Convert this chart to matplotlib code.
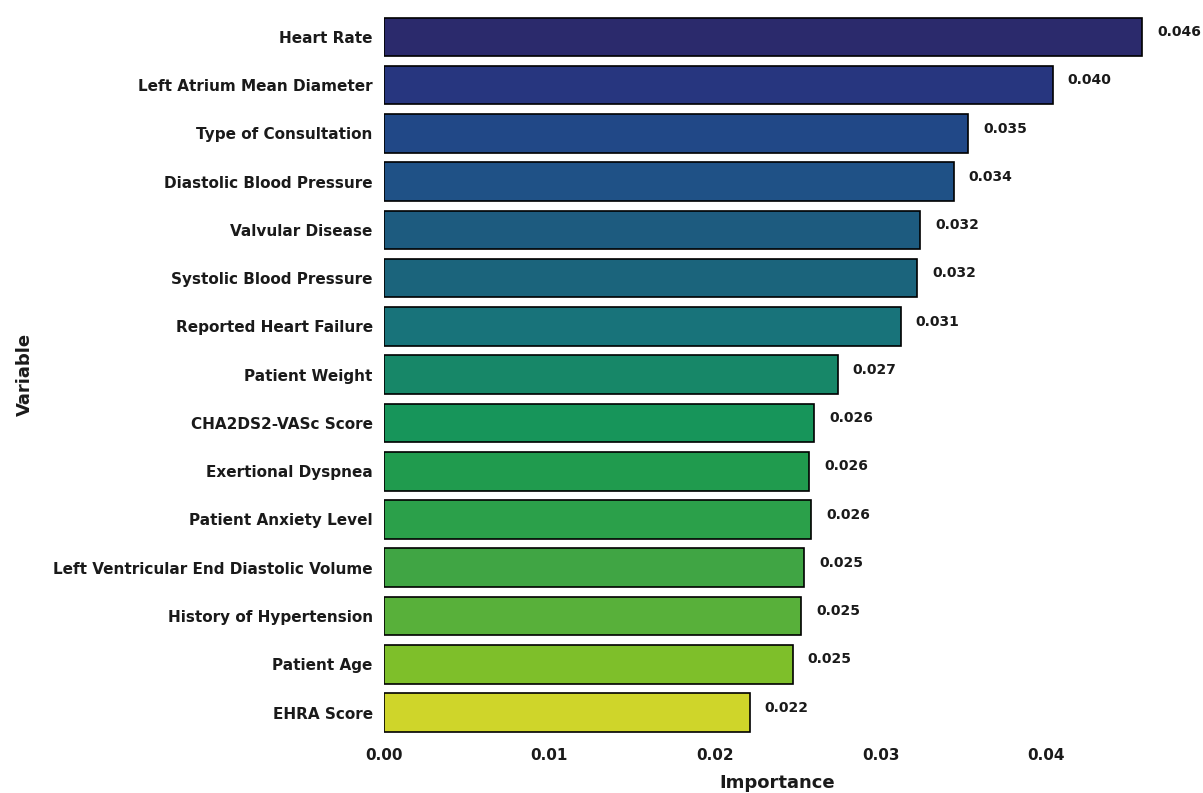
import matplotlib
matplotlib.use("Agg")
import matplotlib.pyplot as plt

variables = ["Heart Rate", "Left Atrium Mean Diameter", "Type of Consultation",
             "Diastolic Blood Pressure", "Valvular Disease", "Systolic Blood Pressure",
             "Reported Heart Failure", "Patient Weight", "CHA2DS2-VASc Score",
             "Exertional Dyspnea", "Patient Anxiety Level",
             "Left Ventricular End Diastolic Volume", "History of Hypertension",
             "Patient Age", "EHRA Score"]
importance = [0.0458, 0.0404, 0.0353, 0.0344, 0.0324, 0.0322, 0.0312, 0.0274,
              0.0260, 0.0257, 0.0258, 0.0254, 0.0252, 0.0247, 0.0221]

colors = ["#2b2a6c", "#27367f", "#214887", "#1f5186", "#1d5b7f", "#1b647c",
          "#18737a", "#178768", "#17955a", "#209b4e", "#2ba04a", "#40a544",
          "#58b03a", "#7ebf2a", "#cfd52a"]

plt.rcParams['font.family'] = 'DejaVu Sans'
plt.rcParams['font.weight'] = 'bold'

fig = plt.figure(figsize=(12.03, 7.93), dpi=100)
ax = fig.add_axes([0.319, 0.071, 0.654, 0.913])

ypos = list(range(len(variables)))
ax.barh(ypos, importance, height=0.8, color=colors, edgecolor="black", linewidth=1.2)

for y, v in zip(ypos, importance):
    ax.text(v + 0.0009, y - 0.1, "%.3f" % v, va="center", ha="left",
            fontsize=10, fontweight="bold", color="#1a1a1a")

ax.set_yticks(ypos)
ax.set_yticklabels(variables, fontsize=11, fontweight="bold", color="#1a1a1a")
ax.set_ylim(len(variables) - 0.5, -0.5)
ax.set_xlim(0, 0.0475)
ax.set_xticks([0.00, 0.01, 0.02, 0.03, 0.04])
ax.set_xticklabels(["0.00", "0.01", "0.02", "0.03", "0.04"], fontsize=11,
                   fontweight="bold", color="#1a1a1a")
ax.tick_params(length=0, pad=8)
for s in ax.spines.values():
    s.set_visible(False)

ax.set_xlabel("Importance", fontsize=13, fontweight="bold", color="#1a1a1a", labelpad=8)
ax.set_ylabel("Variable", fontsize=13, fontweight="bold", color="#1a1a1a", labelpad=14)

fig.savefig("out.png", dpi=100)
